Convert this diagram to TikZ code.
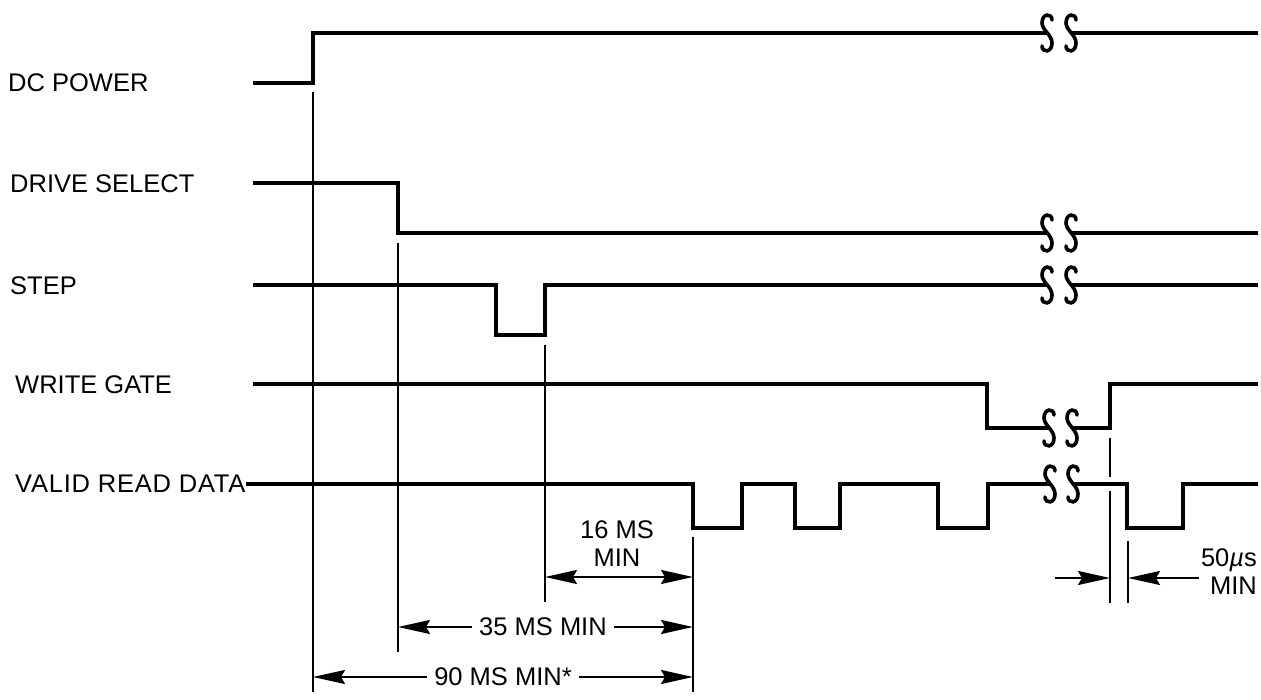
\documentclass[tikz,border=0pt]{standalone}
\usepackage{fontspec}
\setmainfont{Liberation Sans}
\usetikzlibrary{arrows.meta}
\tikzset{
  sig/.style={line width=3.2pt, line join=miter},
  refl/.style={line width=2pt},
  dim/.style={line width=1.8pt, -{Stealth[length=32pt,width=14pt,inset=4pt]}},
  dimboth/.style={line width=1.8pt, {Stealth[length=32pt,width=14pt,inset=4pt]}-{Stealth[length=32pt,width=14pt,inset=4pt]}},
  lbl/.style={font=\fontsize{25.5}{28}\selectfont, inner sep=0pt},
  dimlbl/.style={font=\fontsize{25.5}{28}\selectfont, inner sep=7pt, align=center},
  brk/.style={line width=3.6pt, line cap=round},
  brkS/.pic={\draw[brk] (5,-13) .. controls (5,-20) and (-5,-20) .. (-5,-10) .. controls (-5,-3) and (5,2) .. (5,10) .. controls (5,20) and (-5,20) .. (-5,13);}
}
\begin{document}
\begin{tikzpicture}[x=1pt,y=-1pt]
\useasboundingbox (0,0) rectangle (1261,700);
% labels
\node[lbl,anchor=west] (ldc) at (8,83) {DC POWER};
\node[lbl,anchor=west] (lds) at (10,184) {DRIVE SELECT};
\node[lbl,anchor=west] (lst) at (10,286) {STEP};
\node[lbl,anchor=west] (lwg) at (15,385) {WRITE GATE};
\node[lbl,anchor=west] (lvd) at (15,484) {\addfontfeature{LetterSpace=3}VALID READ DATA};
% DC power
\draw[sig] (253,83) -- (313,83) -- (313,33) -- (1047,33);
\pic at (1047,33) {brkS};
\pic at (1071,33) {brkS};
\draw[sig] (1071,33) -- (1258,33);
% drive select
\draw[sig] (253,183) -- (398,183) -- (398,233) -- (1047,233);
\pic at (1047,233) {brkS};
\pic at (1071,233) {brkS};
\draw[sig] (1071,233) -- (1258,233);
% step
\draw[sig] (253,285) -- (496,285) -- (496,335) -- (545,335) -- (545,285) -- (1047,285);
\pic at (1047,285) {brkS};
\pic at (1071,285) {brkS};
\draw[sig] (1071,285) -- (1258,285);
% write gate
\draw[sig] (253,384) -- (987,384) -- (987,428) -- (1049,428);
\pic at (1049,428) {brkS};
\pic at (1072,428) {brkS};
\draw[sig] (1072,428) -- (1110,428) -- (1110,384) -- (1258,384);
% valid read data
\draw[sig] (lvd.east) -- (693,484) -- (693,528) -- (742,528) -- (742,484) -- (795,484) -- (795,528) -- (840,528) -- (840,484) -- (938,484) -- (938,528) -- (988,528) -- (988,484) -- (1050,484);
\pic at (1050,484) {brkS};
\pic at (1073,484) {brkS};
\draw[sig] (1073,484) -- (1127,484) -- (1127,528) -- (1183,528) -- (1183,484) -- (1258,484);
% reference lines
\coordinate (a1) at (313,92);   \coordinate (a2) at (313,692);
\coordinate (b1) at (398,243);  \coordinate (b2) at (398,652);
\coordinate (c1) at (545,345);  \coordinate (c2) at (545,602);
\coordinate (d1) at (693,537);  \coordinate (d2) at (693,692);
\coordinate (e1) at (1110,438); \coordinate (e2) at (1110,603);
\coordinate (e3) at (1110,477); \coordinate (e4) at (1110,491);
\coordinate (f1) at (1128,541); \coordinate (f2) at (1128,603);
\draw[refl] (a1) -- (a2);
\draw[refl] (b1) -- (b2);
\draw[refl] (c1) -- (c2);
\draw[refl] (d1) -- (d2);
\draw[refl] (e1) -- (e3);
\draw[refl] (e4) -- (e2);
\draw[refl] (f1) -- (f2);
% 16 MS
\draw[dimboth] (c1 |- 0,577) -- (d1 |- 0,577);
\node[lbl,align=center] (t16) at (617,544) {16 MS\\MIN};
% 35 MS
\node[dimlbl] (t35) at (543,627) {35 MS MIN};
\draw[dim] (t35.west) -- (b1 |- t35.west);
\draw[dim] (t35.east) -- (d1 |- t35.east);
% 90 MS
\node[dimlbl] (t90) at (503,677) {90 MS MIN*};
\draw[dim] (t90.west) -- (a1 |- t90.west);
\draw[dim] (t90.east) -- (d1 |- t90.east);
% 50 us
\coordinate (g1) at (1055,578);
\coordinate (g2) at (1199,578);
\draw[dim] (g1) -- (e1 |- g1);
\draw[dim] (g2) -- (f1 |- g2);
\node[lbl,align=right,anchor=east] (t50) at (1257,572) {50{\itshape µ}s\\MIN};
\end{tikzpicture}
\end{document}
